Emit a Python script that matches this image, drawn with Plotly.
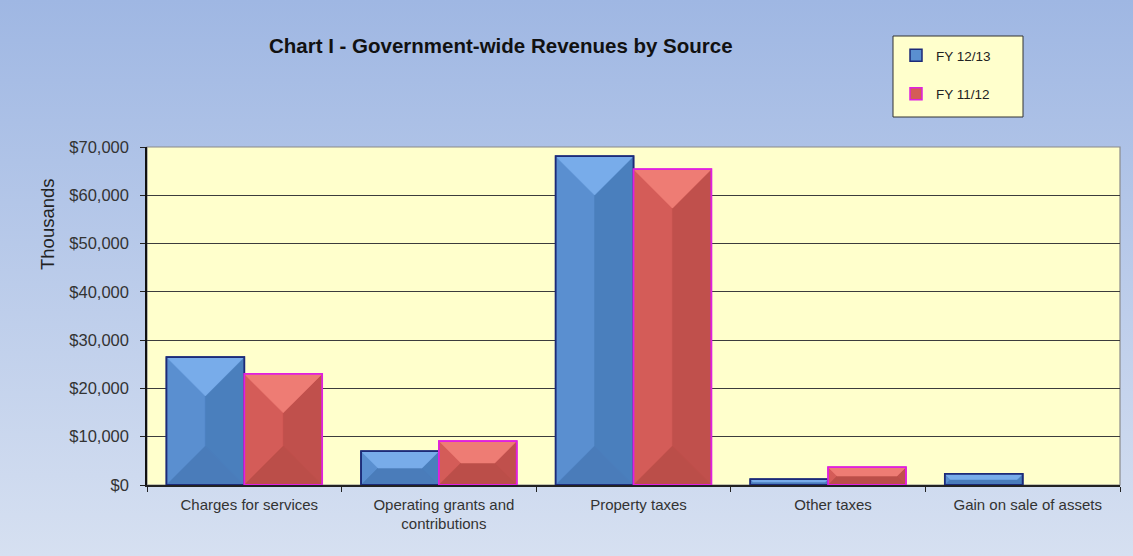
import plotly.graph_objects as go

# ---- data (thousands of dollars) ----
categories = [
    "Charges for services",
    "Operating grants and<br>contributions",
    "Property taxes",
    "Other taxes",
    "Gain on sale of assets",
]
fy_1213 = [26500, 7000, 68100, 1200, 2300]
fy_1112 = [23000, 9100, 65400, 3700, 0]
series_names = ["FY 12/13", "FY 11/12"]
y_ticks = [0, 10000, 20000, 30000, 40000, 50000, 60000, 70000]
y_ticktext = ["${:,}".format(v) for v in y_ticks]

# ---- layout geometry ----
W, H = 1133, 556
M_L, M_R, M_T, M_B = 147, 13, 147, 71
PLOT_W = W - M_L - M_R
PLOT_H = H - M_T - M_B
Y_MAX = 70000
BARGAP = 0.2
N = len(categories)
BAR_W = (1 - BARGAP) / 2  # width of one bar in category units

px_per_x = PLOT_W / N
px_per_y = PLOT_H / Y_MAX


def px_x(px):
    """Absolute pixel column -> paper x."""
    return (px - M_L) / PLOT_W


def px_y(py):
    """Absolute pixel row -> paper y."""
    return 1 + (M_T - py) / PLOT_H


styles = [
    dict(base="#5a8fd0", top="#78acea", left="#5a8fd0", right="#4a7fbd",
         bottom="#4a7cba", edge="#1c2a78"),
    dict(base="#d45c58", top="#ee7c74", left="#d45c58", right="#c0504c",
         bottom="#bb4e49", edge="#e020e0"),
]

fig = go.Figure()

# base bars (also provide the legend entries)
for name, vals, st in zip(series_names, [fy_1213, fy_1112], styles):
    fig.add_trace(go.Bar(
        x=categories, y=vals, name=name, legendgroup=name,
        marker=dict(color=st["base"],
                    line=dict(color=st["edge"],
                              width=[1.5 if v > 0 else 0 for v in vals])),
        hoverinfo="skip",
    ))


def bevel_faces(xc, v):
    """Pyramid-bevel facets of one bar, in data coordinates."""
    x0, x1 = xc - BAR_W / 2, xc + BAR_W / 2
    y0, y1 = 0.0, float(v)
    w_px = BAR_W * px_per_x
    h_px = v * px_per_y
    d_px = min(w_px / 2, h_px / 2)
    dx = d_px / px_per_x
    dy = d_px / px_per_y
    xi0, xi1 = x0 + dx, x1 - dx
    yi0, yi1 = y0 + dy, y1 - dy
    return {
        "top": [(x0, y1), (x1, y1), (xi1, yi1), (xi0, yi1)],
        "bottom": [(x0, y0), (x1, y0), (xi1, yi0), (xi0, yi0)],
        "left": [(x0, y0), (x0, y1), (xi0, yi1), (xi0, yi0)],
        "right": [(x1, y0), (x1, y1), (xi1, yi1), (xi1, yi0)],
        "outline": [(x0, y0), (x0, y1), (x1, y1), (x1, y0), (x0, y0)],
    }


for s, (vals, st) in enumerate(zip([fy_1213, fy_1112], styles)):
    offset = (-0.5 + s) * BAR_W
    faces = {k: ([], []) for k in ["left", "right", "bottom", "top", "outline"]}
    for i, v in enumerate(vals):
        if v <= 0:
            continue
        f = bevel_faces(i + offset, v)
        for k in faces:
            pts = f[k]
            if k != "outline":
                pts = pts + [pts[0]]
            faces[k][0].extend([p[0] for p in pts] + [None])
            faces[k][1].extend([p[1] for p in pts] + [None])
    for k in ["left", "right", "bottom", "top"]:
        fig.add_trace(go.Scatter(
            x=faces[k][0], y=faces[k][1], xaxis="x2", mode="lines",
            fill="toself", fillcolor=st[k], line=dict(width=0.5, color=st[k]),
            showlegend=False, hoverinfo="skip",
        ))
    fig.add_trace(go.Scatter(
        x=faces["outline"][0], y=faces["outline"][1], xaxis="x2", mode="lines",
        line=dict(width=1.8, color=st["edge"]),
        showlegend=False, hoverinfo="skip",
    ))

# gradient backdrop for the whole chart
bg_svg = (
    "data:image/svg+xml;utf8,"
    "<svg xmlns='http://www.w3.org/2000/svg' width='100' height='100' preserveAspectRatio='none'>"
    "<defs><linearGradient id='g' x1='0' y1='0' x2='0' y2='1'>"
    "<stop offset='0' stop-color='%239fb7e3'/>"
    "<stop offset='1' stop-color='%23d6e0f1'/>"
    "</linearGradient></defs>"
    "<rect width='100' height='100' fill='url(%23g)'/></svg>"
)

fig.update_layout(
    width=W, height=H,
    margin=dict(l=M_L, r=M_R, t=M_T, b=M_B),
    paper_bgcolor="#d6e0f1",
    plot_bgcolor="rgba(0,0,0,0)",
    barmode="group", bargap=BARGAP, bargroupgap=0,
    font=dict(family="Liberation Sans, Arial, sans-serif", color="#333333"),
    title=dict(
        text="<b>Chart I - Government-wide Revenues by Source</b>",
        x=0.442, xanchor="center", y=0.918, yanchor="middle",
        font=dict(size=20.5, color="#111111"),
    ),
    showlegend=True,
    legend=dict(
        x=px_x(896), y=px_y(40), xanchor="left", yanchor="top",
        bgcolor="rgba(0,0,0,0)", borderwidth=0,
        font=dict(size=13.5, color="#222222"),
        tracegroupgap=18, traceorder="grouped",
        itemwidth=30,
    ),
    xaxis=dict(
        type="category", categoryorder="array", categoryarray=categories,
        range=[-0.5, N - 0.5],
        tickson="boundaries", ticks="outside", ticklen=5, tickcolor="#222222",
        showline=True, linecolor="#222222", linewidth=1.5,
        showgrid=False, tickfont=dict(size=15, color="#333333"),
        ticklabelstandoff=5, ticklabelshift=5,
        fixedrange=True,
    ),
    xaxis2=dict(
        overlaying="x", range=[-0.5, N - 0.5], visible=False, fixedrange=True,
    ),
    yaxis=dict(
        range=[0, Y_MAX], tickvals=y_ticks, ticktext=y_ticktext,
        ticks="outside", ticklen=5, tickcolor="#222222",
        showline=True, linecolor="#111111", linewidth=1.5,
        showgrid=True, gridcolor="#3c3c3c", gridwidth=1,
        zeroline=False, ticklabelstandoff=8,
        tickfont=dict(size=16.5, color="#333333"),
        fixedrange=True,
    ),
    annotations=[dict(
        text="Thousands", textangle=-90, showarrow=False,
        xref="paper", yref="paper", x=px_x(47), y=px_y(224),
        xanchor="center", yanchor="middle",
        font=dict(size=18.5, color="#222222"),
    )],
    images=[dict(
        source=bg_svg, xref="paper", yref="paper", x=px_x(0), y=px_y(0),
        sizex=W / PLOT_W, sizey=H / PLOT_H,
        sizing="stretch", layer="below", xanchor="left", yanchor="top",
    )],
    shapes=[
        # plot area
        dict(type="rect", xref="x domain", yref="y domain", x0=0, x1=1, y0=0, y1=1,
             fillcolor="#ffffcc", line=dict(color="#8a8a8a", width=1.2), layer="below"),
        # legend box
        dict(type="rect", xref="paper", yref="paper",
             x0=px_x(893), x1=px_x(1023), y0=px_y(117), y1=px_y(36),
             fillcolor="#ffffcc", line=dict(color="#333333", width=1), layer="below"),
    ],
)

fig.write_html("out.html")
